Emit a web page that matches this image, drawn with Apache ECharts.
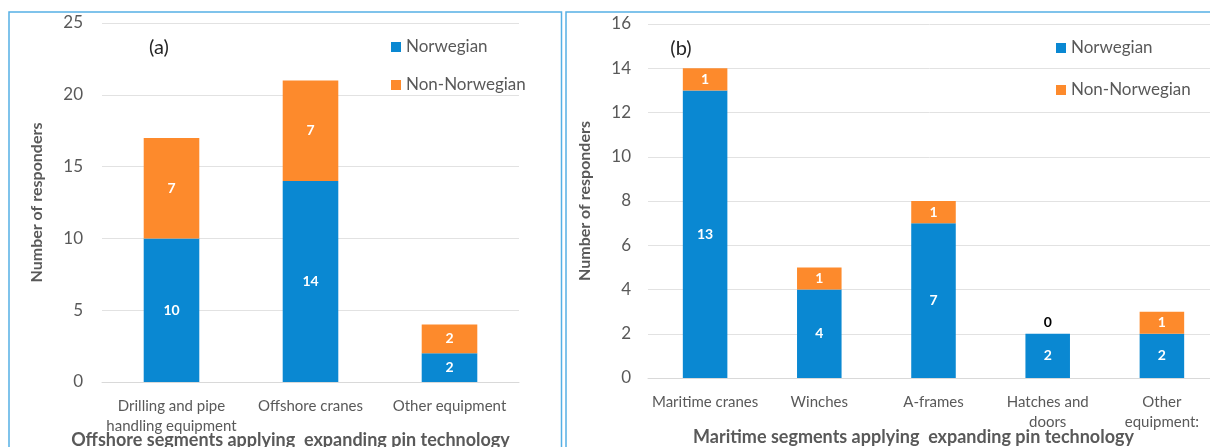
<!DOCTYPE html>
<html>
<head>
    <meta charset="utf-8">
    <title>ECharts</title>
    <script src="https://cdn.jsdelivr.net/npm/echarts@6/dist/echarts.min.js"></script>
    <style>
        body { margin: 0; background: #fff; }
    </style>
</head>
<body>
    <div id="main" style="width: 1210px;height:447px;"></div>
    <script type="text/javascript">

    // panel (a) - offshore
    var offshoreCats = ['Drilling and pipe\nhandling equipment', 'Offshore cranes', 'Other equipment'];
    var offshoreNor = [10, 14, 2];
    var offshoreNon = [7, 7, 2];

    // panel (b) - maritime
    var maritimeCats = ['Maritime cranes', 'Winches', 'A-frames', 'Hatches and\ndoors', 'Other\nequipment:'];
    var maritimeNor = [13, 4, 7, 2, 2];
    var maritimeNon = [1, 1, 1, 0, 1];

    var blue = '#0a88d2';
    var orange = '#fd8a2c';
    var gray = '#595959';
    var font = 'Lato';

    var myChart = echarts.init(document.getElementById('main'));

    function valueLabels(arr) {
        // zero values get a dark label above the bar
        return arr.map(function (v) {
            if (v === 0) {
                return { value: v, label: { position: 'top', color: '#000', distance: 4 } };
            }
            return v;
        });
    }

    var barLabel = {
        show: true,
        position: 'inside',
        color: '#fff',
        fontWeight: 'bold',
        fontSize: 14,
        fontFamily: font
    };

    function xAxisCfg(idx, cats, name, gap) {
        return {
            type: 'category',
            gridIndex: idx,
            data: cats,
            axisTick: { show: false },
            axisLine: { lineStyle: { color: '#d9d9d9' } },
            axisLabel: { color: gray, fontSize: 15, fontFamily: font, margin: 14, lineHeight: 20, interval: 0 },
            name: name,
            nameLocation: 'middle',
            nameGap: gap,
            nameMoveOverlap: false,
            nameTextStyle: { color: gray, fontWeight: 'bold', fontSize: 18, fontFamily: font, padding: [0, 40, 0, 0] }
        };
    }

    function yAxisCfg(idx, max, interval, gap, margin) {
        return {
            type: 'value',
            gridIndex: idx,
            min: 0,
            max: max,
            interval: interval,
            axisLine: { show: false },
            axisTick: { show: false },
            splitLine: { lineStyle: { color: '#e2e2e2' } },
            axisLabel: { color: gray, fontSize: 17, fontFamily: font, margin: margin },
            name: 'Number of responders',
            nameLocation: 'middle',
            nameGap: gap,
            nameMoveOverlap: false,
            nameTextStyle: { color: gray, fontWeight: 'bold', fontSize: 16, fontFamily: font }
        };
    }

    var legendCfg = function (left, top, gap) {
        return {
            orient: 'vertical',
            left: left,
            top: top,
            icon: 'rect',
            itemWidth: 10,
            itemHeight: 10,
            itemGap: gap,
            data: ['Norwegian', 'Non-Norwegian'],
            textStyle: { color: gray, fontSize: 17, fontFamily: font, lineHeight: 20 }
        };
    };

    var option = {
        animation: false,
        grid: [
            { left: 102, top: 23, width: 417, height: 359, outerBoundsMode: 'none' },
            { left: 648, top: 24, width: 571, height: 354, outerBoundsMode: 'none' }
        ],
        legend: [legendCfg(386, 32, 18), legendCfg(1051, 33, 22)],
        xAxis: [
            xAxisCfg(0, offshoreCats, 'Offshore segments applying  expanding pin technology', 49),
            xAxisCfg(1, maritimeCats, 'Maritime segments applying  expanding pin technology', 50)
        ],
        yAxis: [
            yAxisCfg(0, 25, 5, 57, 19),
            yAxisCfg(1, 16, 2, 55, 17)
        ],
        graphic: [
            { type: 'rect', shape: { x: 9, y: 12, width: 552.5, height: 460 }, style: { fill: 'none', stroke: '#55b0e5', lineWidth: 1.5 } },
            { type: 'rect', shape: { x: 566, y: 12, width: 700, height: 460 }, style: { fill: 'none', stroke: '#55b0e5', lineWidth: 1.5 } },
            { type: 'text', x: 159, y: 48, style: { text: '(a)', fill: '#262626', font: '20px Lato', textAlign: 'center', textVerticalAlign: 'middle' } },
            { type: 'text', x: 681, y: 49, style: { text: '(b)', fill: '#262626', font: '20px Lato', textAlign: 'center', textVerticalAlign: 'middle' } }
        ],
        series: [
            { name: 'Norwegian', type: 'bar', stack: 'a', xAxisIndex: 0, yAxisIndex: 0, barWidth: '40%', itemStyle: { color: blue }, label: barLabel, data: valueLabels(offshoreNor) },
            { name: 'Non-Norwegian', type: 'bar', stack: 'a', xAxisIndex: 0, yAxisIndex: 0, barWidth: '40%', itemStyle: { color: orange }, label: barLabel, data: valueLabels(offshoreNon) },
            { name: 'Norwegian', type: 'bar', stack: 'b', xAxisIndex: 1, yAxisIndex: 1, barWidth: '39%', itemStyle: { color: blue }, label: barLabel, data: valueLabels(maritimeNor) },
            { name: 'Non-Norwegian', type: 'bar', stack: 'b', xAxisIndex: 1, yAxisIndex: 1, barWidth: '39%', itemStyle: { color: orange }, label: barLabel, data: valueLabels(maritimeNon) }
        ]
    };

    myChart.setOption(option);
    </script>
</body>
</html>
